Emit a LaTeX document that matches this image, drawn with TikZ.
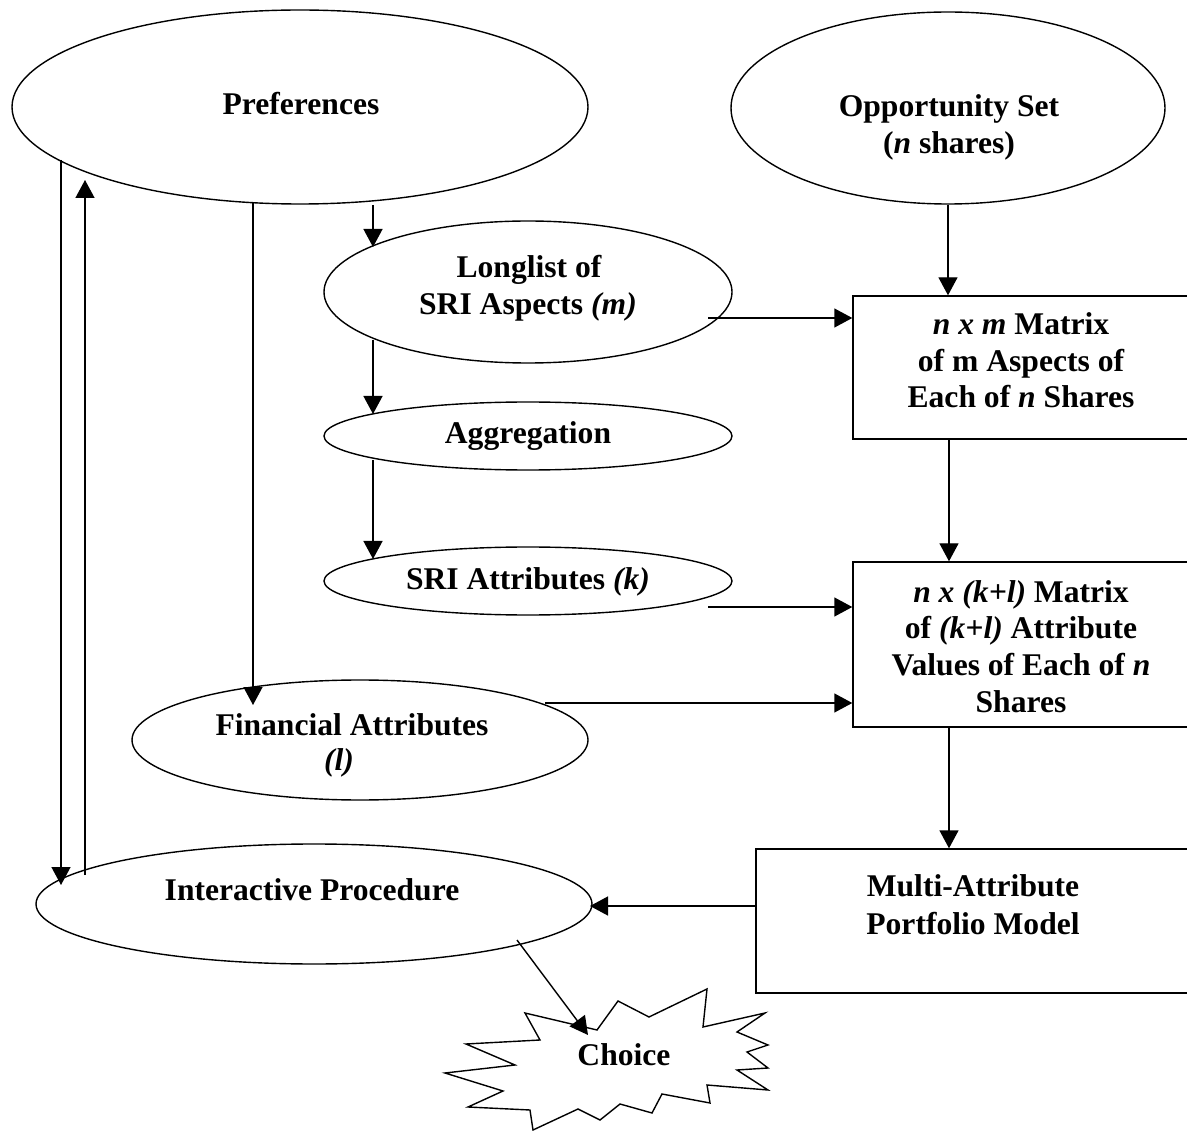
\documentclass[tikz,border=0pt]{standalone}
\usepackage{fontspec}
\setmainfont{Liberation Serif}
\usetikzlibrary{arrows.meta,shapes.geometric}
\begin{document}
\begin{tikzpicture}[x=1pt,y=-1pt,
  txt/.style={font=\fontsize{31.6}{37}\selectfont\bfseries, anchor=base, inner sep=0pt},
  ell/.style={draw, ellipse, line width=1.4pt, inner sep=0pt},
  box/.style={draw, rectangle, line width=1.4pt, inner sep=0pt},
  ln/.style={line width=1.4pt},
  arr/.style={line width=1.4pt, -{Triangle[length=18pt,width=19pt]}}
]
\useasboundingbox (0,0) rectangle (1187,1131);

% shapes
\node[ell, minimum width=576pt, minimum height=194pt] (pref) at (300,107) {};
\node[ell, minimum width=434pt, minimum height=192pt] (opp) at (948,108) {};
\node[ell, minimum width=408pt, minimum height=142pt] (ll) at (528,292) {};
\node[ell, minimum width=408pt, minimum height=68pt] (agg) at (528,436) {};
\node[ell, minimum width=408pt, minimum height=68pt] (sri) at (528,581) {};
\node[ell, minimum width=456pt, minimum height=120pt] (fin) at (360,740) {};
\node[ell, minimum width=556pt, minimum height=120pt] (inter) at (314,904) {};
\node[box, minimum width=337pt, minimum height=143pt] (box1) at (1021.5,367.5) {};
\node[box, minimum width=337pt, minimum height=165pt] (box2) at (1021.5,644.5) {};
\node[box, minimum width=434pt, minimum height=144pt] (box3) at (973,921) {};

% starburst
\draw[ln, line join=miter] (525,1013) -- (597,1030) -- (618,1001) -- (649,1017) -- (707,989)
  -- (703,1027) -- (765,1013) -- (737,1032) -- (768,1045) -- (747,1052) -- (768,1068)
  -- (737,1070) -- (768,1090) -- (707,1085) -- (710,1103) -- (662,1094) -- (652,1113)
  -- (620,1104) -- (600,1120) -- (578,1109) -- (533,1130) -- (530,1110) -- (468,1107)
  -- (503,1091) -- (445,1073) -- (515,1065) -- (466,1044) -- (540,1040) -- cycle;

% texts
\node[txt] (tpref) at (301,115) {Preferences};
\node[txt] (topp1) at (949,117) {Opportunity Set};
\node[txt] (topp2) at (949,154) {(\textit{n} shares)};
\node[txt] (tll1) at (529,278) {Longlist of};
\node[txt] (tll2) at (528,315) {SRI Aspects \textit{(m)}};
\node[txt] (tagg) at (528,444) {Aggregation};
\node[txt] (tsri) at (528,589) {SRI Attributes \textit{(k)}};
\node[txt] (tfin1) at (352,735) {Financial Attributes};
\node[txt] (tfin2) at (339,770) {\textit{(l)}};
\node[txt] (tint) at (312,900) {Interactive Procedure};
\node[txt] (tb11) at (1021,335) {\textit{n x m} Matrix};
\node[txt] (tb12) at (1021,372) {of m Aspects of};
\node[txt] (tb13) at (1021,408) {Each of \textit{n} Shares};
\node[txt] (tb21) at (1021,602) {\textit{n x (k+l)} Matrix};
\node[txt] (tb22) at (1021,638) {of \textit{(k+l)} Attribute};
\node[txt] (tb23) at (1021,675) {Values of Each of \textit{n}};
\node[txt] (tb24) at (1021,712) {Shares};
\node[txt] (tb31) at (973,896) {Multi-Attribute};
\node[txt] (tb32) at (973,934) {Portfolio Model};
\node[txt] (choice) at (624,1065) {Choice};

% connector end points
\coordinate (p1s) at (373,205);  \coordinate (p1e) at (373,247);
\coordinate (p2s) at (253,202);  \coordinate (p2e) at (253,705);
\coordinate (l1s) at (61,160);   \coordinate (l1e) at (61,885);
\coordinate (l2s) at (85,875);   \coordinate (l2e) at (85,180);
\coordinate (a1s) at (373,340);  \coordinate (a1e) at (373,414);
\coordinate (a2s) at (373,460);  \coordinate (a2e) at (373,559);
\coordinate (vx) at (949,0);
\coordinate (h1s) at (708,318);
\coordinate (h2s) at (708,607);
\coordinate (h3s) at (545,703);
\coordinate (h4e) at (590,906);
\coordinate (cs) at (517,940);   \coordinate (ce) at (588,1035);

% connectors
\draw[arr] (p1s) -- (p1e);
\draw[arr] (p2s) -- (p2e);
\draw[arr] (l1s) -- (l1e);
\draw[arr] (l2s) -- (l2e);
\draw[arr] (a1s) -- (a1e);
\draw[arr] (a2s) -- (a2e);
\draw[arr] (opp.south) -- (opp.south |- box1.north);
\draw[arr] (h1s) -- (h1s -| box1.west);
\draw[arr] (vx |- box1.south) -- (vx |- box2.north);
\draw[arr] (h2s) -- (h2s -| box2.west);
\draw[arr] (h3s) -- (h3s -| box2.west);
\draw[arr] (vx |- box2.south) -- (vx |- box3.north);
\draw[arr] (box3.west |- h4e) -- (h4e);
\draw[arr] (cs) -- (ce);
\end{tikzpicture}
\end{document}
